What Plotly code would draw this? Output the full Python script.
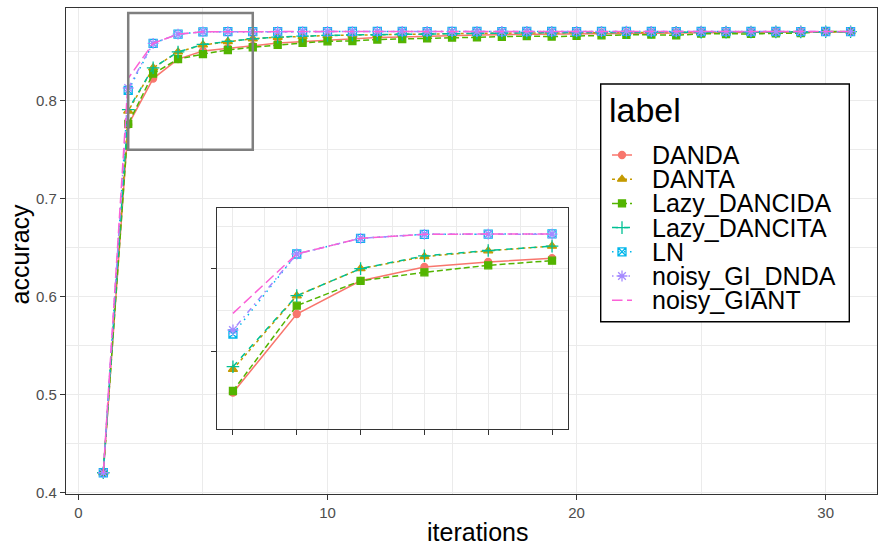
import plotly.graph_objects as go

iterations = list(range(1, 32))

DANDA = [0.42, 0.7754, 0.8226, 0.8425, 0.8508, 0.8538, 0.8561, 0.8590, 0.8605, 0.8620,
         0.8635, 0.8645, 0.8652, 0.8660, 0.8665, 0.8670, 0.8675, 0.8678, 0.8680, 0.8683,
         0.8686, 0.8688, 0.8690, 0.8692, 0.8694, 0.8696, 0.8698, 0.8700, 0.8701, 0.8702, 0.8703]
DANTA = [0.42, 0.7894, 0.8335, 0.8498, 0.8570, 0.8605, 0.8633, 0.8648, 0.8658, 0.8665,
         0.8670, 0.8675, 0.8679, 0.8682, 0.8685, 0.8688, 0.8690, 0.8692, 0.8694, 0.8695,
         0.8697, 0.8698, 0.8699, 0.8700, 0.8700, 0.8701, 0.8702, 0.8702, 0.8703, 0.8704, 0.8705]
Lazy_DANCIDA = [0.42, 0.7764, 0.8276, 0.8425, 0.8476, 0.8518, 0.8546, 0.8570, 0.8590, 0.8607,
                0.8610, 0.8625, 0.8630, 0.8636, 0.8645, 0.8648, 0.8652, 0.8660, 0.8655, 0.8662,
                0.8668, 0.8672, 0.8675, 0.8667, 0.8685, 0.8680, 0.8682, 0.8688, 0.8690, 0.8708, 0.8705]
Lazy_DANCITA = [0.42, 0.7910, 0.8336, 0.8498, 0.8575, 0.8607, 0.8633, 0.8650, 0.8660, 0.8667,
                0.8672, 0.8676, 0.8680, 0.8683, 0.8686, 0.8689, 0.8691, 0.8693, 0.8695, 0.8696,
                0.8697, 0.8698, 0.8699, 0.8700, 0.8701, 0.8701, 0.8702, 0.8703, 0.8703, 0.8704, 0.8705]
LN = [0.42, 0.8106, 0.8586, 0.8680, 0.8704, 0.8705, 0.8706, 0.8706, 0.8707, 0.8706,
      0.8707, 0.8708, 0.8707, 0.8706, 0.8708, 0.8707, 0.8706, 0.8707, 0.8707, 0.8706,
      0.8708, 0.8708, 0.8707, 0.8706, 0.8707, 0.8706, 0.8707, 0.8707, 0.8706, 0.8707, 0.8705]
noisy_GI_DNDA = [0.42, 0.8130, 0.8586, 0.8680, 0.8704, 0.8705, 0.8705, 0.8706, 0.8706, 0.8707,
                 0.8706, 0.8707, 0.8708, 0.8707, 0.8706, 0.8707, 0.8707, 0.8708, 0.8706, 0.8707,
                 0.8706, 0.8710, 0.8707, 0.8706, 0.8707, 0.8707, 0.8706, 0.8707, 0.8707, 0.8706, 0.8706]
noisy_GIANT = [0.42, 0.8230, 0.8586, 0.8680, 0.8704, 0.8706, 0.8706, 0.8707, 0.8707, 0.8707,
               0.8706, 0.8707, 0.8707, 0.8708, 0.8707, 0.8707, 0.8707, 0.8706, 0.8707, 0.8708,
               0.8707, 0.8707, 0.8707, 0.8706, 0.8707, 0.8707, 0.8707, 0.8706, 0.8707, 0.8707, 0.8707]

labels = ["DANDA", "DANTA", "Lazy_DANCIDA", "Lazy_DANCITA", "LN", "noisy_GI_DNDA", "noisy_GIANT"]
series = [DANDA, DANTA, Lazy_DANCIDA, Lazy_DANCITA, LN, noisy_GI_DNDA, noisy_GIANT]
colors = ["#F8766D", "#C49A00", "#53B400", "#00C094", "#00B6EB", "#A58AFF", "#FB61D7"]
dashes = ["solid", "3px,3px", "6px,3px", "6px,6px", "1.5px,4.5px", "1.5px,4.5px,6px,4.5px", "10.5px,4.5px"]
symbols = ["circle", "triangle-up", "square", "cross-thin-open", "square-x-open", "asterisk-open", None]
msizes = [7, 8, 7, 9, 8, 9, 0]

x_ticks = [0, 10, 20, 30]
y_ticks = [0.4, 0.5, 0.6, 0.7, 0.8]
inset_lo, inset_hi = 2, 7
zoom_box = dict(x0=2, x1=7, y0=0.75, y1=0.8895)

FONT = "Liberation Sans, Arial, sans-serif"
W, H = 878, 550
L, R, T, B = 66, 877, 8, 494          # main panel in pixels
XR = [-0.498, 32.06]
YR = [0.3983, 0.8947]


def px2x(px):
    return XR[0] + (px - L) / (R - L) * (XR[1] - XR[0])


def py2y(py):
    return YR[1] - (py - T) / (B - T) * (YR[1] - YR[0])


def px2paper(px):
    return (px - L) / (R - L)


def py2paper(py):
    return (B - py) / (B - T)


fig = go.Figure()
# main traces
for name, ys, c, d, s, ms in zip(labels, series, colors, dashes, symbols, msizes):
    if s is None:
        mode, marker = "lines", dict(color=c)
    else:
        mode, marker = "lines+markers", dict(color=c, size=ms, symbol=s, line=dict(color=c, width=1.3))
    fig.add_trace(go.Scatter(x=iterations, y=ys, name=name, mode=mode, showlegend=False,
                             line=dict(color=c, dash=d, width=1.5), marker=marker,
                             xaxis="x", yaxis="y"))
# inset traces
for name, ys, c, d, s, ms in zip(labels, series, colors, dashes, symbols, msizes):
    xi = [x for x in iterations if inset_lo <= x <= inset_hi]
    yi = [y for x, y in zip(iterations, ys) if inset_lo <= x <= inset_hi]
    if s is None:
        mode, marker = "lines", dict(color=c)
    else:
        mode, marker = "lines+markers", dict(color=c, size=ms, symbol=s, line=dict(color=c, width=1.3))
    fig.add_trace(go.Scatter(x=xi, y=yi, name=name, mode=mode, showlegend=False,
                             line=dict(color=c, dash=d, width=1.5), marker=marker,
                             xaxis="x2", yaxis="y2"))

# manual legend (ggplot-like layout)
leg_box = dict(l=600.7, r=849.3, t=84, b=321.7)
item_y0, item_dy = 155, 24.2
key_l, key_r, text_x = 612, 632, 649.5
fig.add_shape(type="rect", xref="x", yref="y", layer="between",
              x0=px2x(leg_box["l"]), x1=px2x(leg_box["r"]), y0=py2y(leg_box["b"]), y1=py2y(leg_box["t"]),
              fillcolor="white", line=dict(width=0))
fig.add_shape(type="rect", xref="x", yref="y", layer="above",
              x0=px2x(leg_box["l"]), x1=px2x(leg_box["r"]), y0=py2y(leg_box["b"]), y1=py2y(leg_box["t"]),
              fillcolor="rgba(0,0,0,0)", line=dict(color="black", width=1.4))
fig.add_annotation(x=px2paper(607), y=py2paper(110), xref="paper", yref="paper",
                   text="label", showarrow=False, xanchor="left", yanchor="middle",
                   font=dict(family=FONT, size=34, color="black"))
for i, (name, c, d, s, ms) in enumerate(zip(labels, colors, dashes, symbols, msizes)):
    yc = item_y0 + i * item_dy
    fig.add_trace(go.Scatter(x=[px2x(key_l), px2x(key_r)], y=[py2y(yc)] * 2, mode="lines",
                             line=dict(color=c, dash=d, width=1.5), showlegend=False,
                             hoverinfo="skip", xaxis="x", yaxis="y"))
    if s is not None:
        fig.add_trace(go.Scatter(x=[px2x((key_l + key_r) / 2)], y=[py2y(yc)], mode="markers",
                                 marker=dict(color=c, size=ms, symbol=s, line=dict(color=c, width=1.3)),
                                 showlegend=False, hoverinfo="skip", xaxis="x", yaxis="y"))
    fig.add_annotation(x=px2paper(text_x), y=py2paper(yc), xref="paper", yref="paper",
                       text=name, showarrow=False, xanchor="left", yanchor="middle",
                       font=dict(family=FONT, size=25, color="black"))

# axis titles
fig.add_annotation(x=px2paper(477.5), y=py2paper(532), xref="paper", yref="paper",
                   text="iterations", showarrow=False, xanchor="center", yanchor="middle",
                   font=dict(family=FONT, size=25, color="black"))
fig.add_annotation(x=px2paper(19), y=py2paper(254.5), xref="paper", yref="paper",
                   text="accuracy", showarrow=False, xanchor="center", yanchor="middle", textangle=-90,
                   font=dict(family=FONT, size=25, color="black"))

grid = "#EBEBEB"
axis_common = dict(showline=True, linecolor="#333333", linewidth=1.2, mirror=True,
                   ticks="outside", ticklen=5, tickcolor="#333333", tickwidth=1.2,
                   gridcolor=grid, gridwidth=1.1, zeroline=False,
                   tickfont=dict(family=FONT, size=15, color="#4D4D4D"))

fig.update_layout(
    width=W, height=H,
    margin=dict(l=L, r=W - R, t=T, b=H - B),
    plot_bgcolor="white", paper_bgcolor="white",
    font=dict(family=FONT, color="black"),
    showlegend=False,
    xaxis=dict(range=XR, tickvals=x_ticks, domain=[0, 1],
               minor=dict(tickvals=[5, 15, 25], showgrid=True, gridcolor=grid, gridwidth=0.6, ticks=""),
               **axis_common),
    yaxis=dict(range=YR, tickvals=y_ticks, domain=[0, 1], tickformat=".1f",
               minor=dict(tickvals=[0.45, 0.55, 0.65, 0.75, 0.85], showgrid=True, gridcolor=grid, gridwidth=0.6, ticks=""),
               **axis_common),
    xaxis2=dict(range=[1.755, 7.255], tickvals=[2, 3, 4, 5, 6, 7], showticklabels=False,
                domain=[px2paper(217.3), px2paper(568.3)], anchor="y2",
                minor=dict(tickvals=[2.5, 3.5, 4.5, 5.5, 6.5], showgrid=True, gridcolor=grid, gridwidth=0.6, ticks=""),
                **axis_common),
    yaxis2=dict(range=[0.7538, 0.886], tickvals=[0.80, 0.85], showticklabels=False,
                domain=[py2paper(428.7), py2paper(208.3)], anchor="x2",
                minor=dict(tickvals=[0.775, 0.825, 0.875], showgrid=True, gridcolor=grid, gridwidth=0.6, ticks=""),
                **axis_common),
)

fig.add_shape(type="rect", xref="x", yref="y", layer="above", fillcolor="rgba(0,0,0,0)",
              line=dict(color="#7F7F7F", width=2.5), **zoom_box)

fig.write_html("out.html")
